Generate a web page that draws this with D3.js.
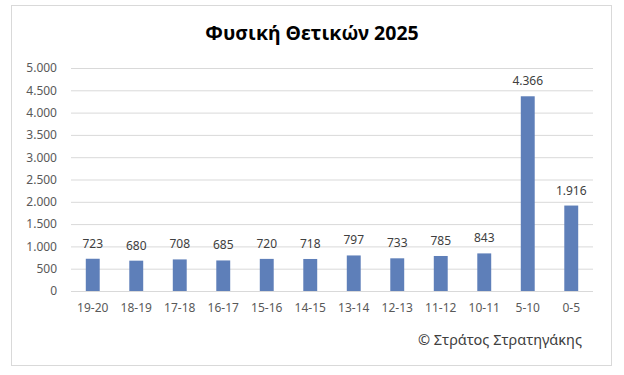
<!DOCTYPE html>
<html>
<head>
<meta charset="utf-8">
<script src="https://cdn.jsdelivr.net/npm/d3@7"></script>
<style>
  body { margin: 0; background: #fff; }
  text { font-family: "Noto Sans", sans-serif; }
</style>
</head>
<body>
<div id="chart"></div>
<script>
const categories = ["19-20", "18-19", "17-18", "16-17", "15-16", "14-15", "13-14", "12-13", "11-12", "10-11", "5-10", "0-5"];
const values = [723, 680, 708, 685, 720, 718, 797, 733, 785, 843, 4366, 1916];
const yTicks = [0, 500, 1000, 1500, 2000, 2500, 3000, 3500, 4000, 4500, 5000];
const title = "Φυσική Θετικών 2025";
const credit = "© Στράτος Στρατηγάκης";

const W = 624, H = 375;
const margin = { top: 68, right: 31, bottom: 84, left: 71 };
const width = W - margin.left - margin.right;
const height = H - margin.top - margin.bottom;

const gr = d3.formatLocale({ decimal: ",", thousands: ".", grouping: [3], currency: ["", "€"] });
const fmt = gr.format(",d");

const root = d3.select("#chart")
  .append("svg")
  .attr("width", W)
  .attr("height", H);

// Chart frame
root.append("rect")
  .attr("x", 11.5)
  .attr("y", 5.5)
  .attr("width", 600)
  .attr("height", 360)
  .attr("fill", "#fff")
  .attr("stroke", "#d9d9d9");

root.append("text")
  .attr("x", 312)
  .attr("y", 40)
  .attr("text-anchor", "middle")
  .style("font-size", "19.5px")
  .style("font-weight", "bold")
  .attr("fill", "#000")
  .text(title);

const svg = root.append("g")
  .attr("transform", `translate(${margin.left},${margin.top})`);

const x = d3.scaleBand()
  .domain(categories)
  .range([0, width])
  .paddingInner(0.68)
  .paddingOuter(0.34);

const y = d3.scaleLinear()
  .domain([0, 5000])
  .range([height, 0]);

// Gridlines
svg.append("g")
  .call(d3.axisLeft(y).tickValues(yTicks).tickSize(-width).tickFormat(""))
  .call(g => g.select(".domain").remove())
  .call(g => g.selectAll("line").attr("stroke", "#d9d9d9"));

// Y labels
svg.append("g")
  .call(d3.axisLeft(y).tickValues(yTicks).tickSize(0).tickPadding(14).tickFormat(fmt))
  .call(g => g.select(".domain").remove())
  .call(g => g.selectAll("text")
    .attr("fill", "#595959")
    .style("font-size", "12px")
    .style("font-family", "Noto Sans, sans-serif"));

// X labels
svg.append("g")
  .attr("transform", `translate(0,${height})`)
  .call(d3.axisBottom(x).tickSize(0).tickPadding(12))
  .call(g => g.select(".domain").remove())
  .call(g => g.selectAll("text")
    .attr("fill", "#595959")
    .style("font-size", "12px")
    .style("font-family", "Noto Sans, sans-serif"));

// Bars
svg.selectAll("rect.bar")
  .data(values)
  .enter()
  .append("rect")
  .attr("class", "bar")
  .attr("x", (d, i) => x(categories[i]))
  .attr("y", d => y(d))
  .attr("width", x.bandwidth())
  .attr("height", d => height - y(d))
  .attr("fill", "#5e7fb9");

// Value labels
svg.selectAll("text.val")
  .data(values)
  .enter()
  .append("text")
  .attr("class", "val")
  .attr("x", (d, i) => x(categories[i]) + x.bandwidth() / 2)
  .attr("y", d => y(d) - 11)
  .attr("text-anchor", "middle")
  .attr("fill", "#404040")
  .style("font-size", "12px")
  .text(d => fmt(d));

root.append("text")
  .attr("x", 582)
  .attr("y", 345)
  .attr("text-anchor", "end")
  .attr("fill", "#404040")
  .style("font-size", "14.5px")
  .text(credit);
</script>
</body>
</html>
